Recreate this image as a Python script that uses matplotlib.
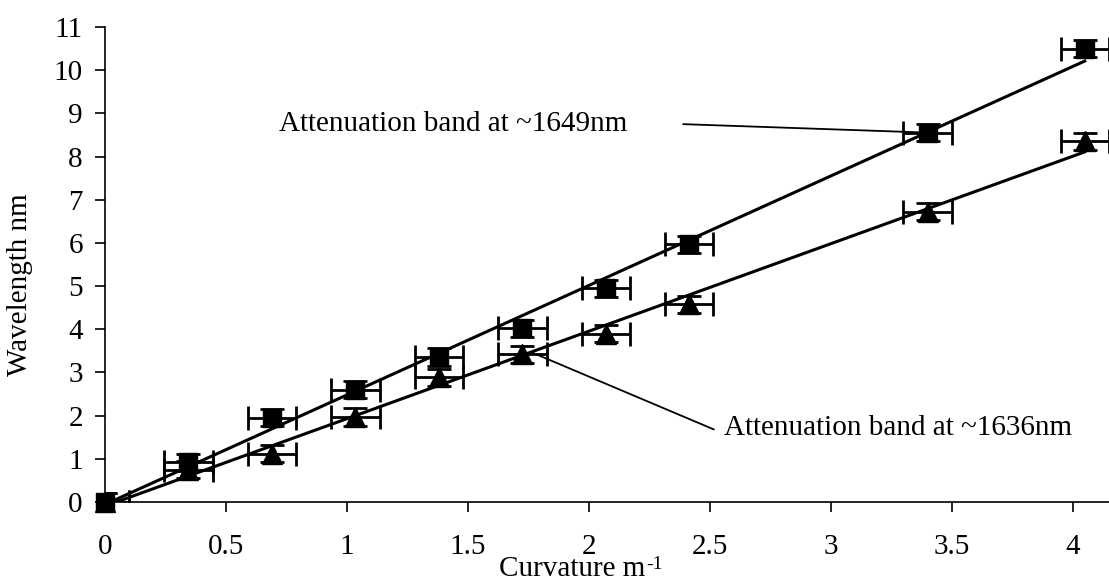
import numpy as np
import matplotlib
matplotlib.use("Agg")
import matplotlib.pyplot as plt

plt.rcParams['font.family'] = ['Liberation Serif', 'DejaVu Serif']

# curvature (m^-1)
curvature = [0, 0.345, 0.69, 1.035, 1.38, 1.725, 2.07, 2.415, 3.40, 4.05]
# wavelength shift (nm)
band_1649 = [0, 0.92, 1.95, 2.60, 3.36, 4.02, 4.95, 5.97, 8.55, 10.5]
band_1636 = [0, 0.75, 1.12, 1.97, 2.89, 3.42, 3.90, 4.58, 6.72, 8.35]
x_err = 0.1
y_err = 0.2

fig = plt.figure(figsize=(11.09, 5.81), dpi=100)
ax = fig.add_axes([105 / 1109, 1 - 502 / 581, 1 - 105 / 1109, (502 - 27) / 581])

x = np.array(curvature)
for y, mk in [(band_1649, 's'), (band_1636, '^')]:
    y = np.array(y)
    # linear trend line
    k, b = np.polyfit(x, y, 1)
    xs = np.array([0, x.max()])
    ax.plot(xs, k * xs + b, color='black', lw=2.2, zorder=2)
    ax.errorbar(x, y, xerr=x_err, yerr=y_err, fmt='none', ecolor='black',
                elinewidth=2.0, capsize=8.5, capthick=2.0, zorder=3)
    ax.plot(x, y, mk, color='black', ms=13 if mk == 's' else 14,
            clip_on=False, zorder=4)

# annotations
ax.annotate('Attenuation band at ~1649nm', xy=(3.37, 8.56), xytext=(0.72, 8.75),
            fontsize=21, va='center', ha='left',
            arrowprops=dict(arrowstyle='-', color='black', lw=1.3,
                            shrinkA=0, shrinkB=0, relpos=(1.16, 0.5)))
ax.annotate('Attenuation band at ~1636nm', xy=(1.77, 3.45), xytext=(2.56, 1.71),
            fontsize=21, va='center', ha='left',
            arrowprops=dict(arrowstyle='-', color='black', lw=1.3,
                            shrinkA=0, shrinkB=0, relpos=(-0.03, 0.45)))

ax.set_xlim(0, 4.15)
ax.set_ylim(0, 11)
ax.set_xticks([0, 0.5, 1, 1.5, 2, 2.5, 3, 3.5, 4])
ax.set_xticklabels(['0', '0.5', '1', '1.5', '2', '2.5', '3', '3.5', '4'])
ax.set_yticks(range(0, 12))
ax.spines['top'].set_visible(False)
ax.spines['right'].set_visible(False)
ax.spines['left'].set_linewidth(1.2)
ax.spines['bottom'].set_linewidth(1.2)
ax.tick_params(axis='x', direction='out', length=7, width=1.2, pad=16, labelsize=21)
ax.tick_params(axis='y', direction='out', length=7, width=1.2, pad=9, labelsize=21)

fig.text(20 / 1109, 1 - 285 / 581, 'Wavelength nm', rotation=90,
         ha='center', va='center', fontsize=21)
xl = fig.text(572 / 1109, 1 - 576 / 581, 'Curvature m',
              ha='center', va='baseline', fontsize=21)
ax.annotate('-1', xy=(1.0, 1.0), xycoords=xl, xytext=(1, 0),
            textcoords='offset points', ha='left', va='top', fontsize=14)

fig.savefig('out.png', dpi=100)
